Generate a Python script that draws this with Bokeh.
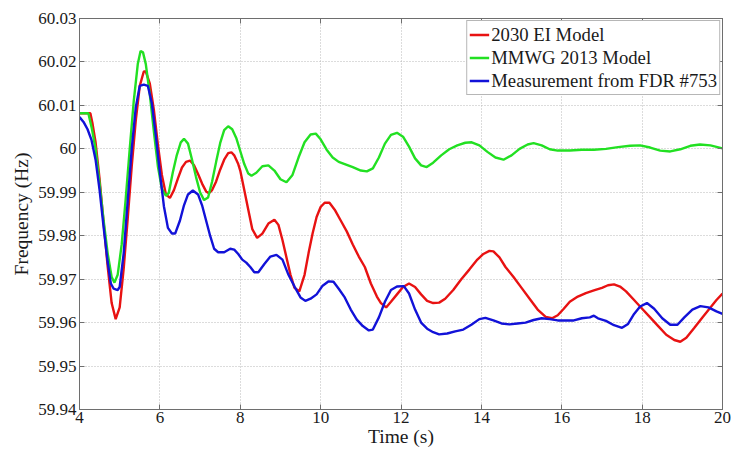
from bokeh.plotting import figure
from bokeh.models import LinearAxis, Legend, LegendItem, FixedTicker, Range1d, CustomJSTickFormatter
from bokeh.embed import file_html
from bokeh.resources import INLINE

# --- data -------------------------------------------------------------
ei2030_t = [4.0, 4.27, 4.32, 4.4, 4.5, 4.6, 4.7, 4.8, 4.9, 5.0, 5.1, 5.2, 5.3, 5.4,
            5.5, 5.6, 5.65, 5.75, 5.85, 5.95, 6.05, 6.15, 6.25, 6.35, 6.45, 6.55,
            6.65, 6.75, 6.85, 6.95, 7.05, 7.15, 7.22, 7.3, 7.4, 7.5, 7.6, 7.7, 7.78,
            7.85, 7.95, 8.0, 8.1, 8.2, 8.3, 8.42, 8.55, 8.7, 8.85, 8.95, 9.05, 9.15,
            9.25, 9.35, 9.47, 9.6, 9.7, 9.8, 9.9, 10.0, 10.1, 10.22, 10.35, 10.5,
            10.65, 10.8, 10.95, 11.1, 11.25, 11.4, 11.5, 11.63, 11.75, 11.9, 12.05,
            12.2, 12.35, 12.5, 12.65, 12.8, 12.95, 13.1, 13.3, 13.5, 13.7, 13.9,
            14.05, 14.2, 14.3, 14.45, 14.6, 14.8, 15.0, 15.2, 15.4, 15.6, 15.76,
            15.9, 16.05, 16.2, 16.4, 16.6, 16.8, 17.0, 17.15, 17.3, 17.45, 17.6,
            17.8, 18.0, 18.2, 18.4, 18.6, 18.8, 18.95, 19.1, 19.3, 19.5, 19.7,
            19.85, 20.0]
ei2030_f = [60.0082, 60.0082, 60.006, 60.0015, 59.993, 59.983, 59.973, 59.9645,
            59.9608, 59.9635, 59.9725, 59.984, 59.996, 60.0065, 60.0145, 60.0178,
            60.0178, 60.015, 60.009, 60.001, 59.994, 59.9895, 59.9887, 59.9905,
            59.9932, 59.9957, 59.997, 59.9973, 59.9962, 59.9942, 59.992, 59.9902,
            59.9898, 59.9905, 59.9925, 59.9952, 59.9975, 59.999, 59.9992, 59.9985,
            59.9965, 59.995, 59.9905, 59.986, 59.9815, 59.9795, 59.9805, 59.9828,
            59.9837, 59.9825, 59.979, 59.975, 59.971, 59.968, 59.9672, 59.971,
            59.976, 59.9805, 59.9843, 59.9866, 59.9876, 59.9876, 59.986, 59.9835,
            59.981, 59.978, 59.9752, 59.9728, 59.969, 59.966, 59.9645, 59.9635,
            59.9648, 59.9665, 59.9682, 59.969, 59.9682, 59.9665, 59.965, 59.9645,
            59.9646, 59.9655, 59.9675, 59.97, 59.9722, 59.9745, 59.9758, 59.9765,
            59.9764, 59.975, 59.9728, 59.9705, 59.968, 59.9655, 59.963, 59.9613,
            59.961, 59.9617, 59.9632, 59.9648, 59.966, 59.9668, 59.9674, 59.968,
            59.9686, 59.9688, 59.9683, 59.9672, 59.9652, 59.9632, 59.9612, 59.9592,
            59.9572, 59.956, 59.9556, 59.9565, 59.9588, 59.9612, 59.9635, 59.9652,
            59.9667]

mmwg_t = [4.0, 4.22, 4.3, 4.4, 4.5, 4.6, 4.7, 4.8, 4.87, 4.95, 5.05, 5.15, 5.25,
          5.35, 5.45, 5.52, 5.58, 5.65, 5.75, 5.85, 5.95, 6.05, 6.15, 6.22, 6.32,
          6.42, 6.52, 6.6, 6.7, 6.8, 6.9, 7.0, 7.1, 7.2, 7.3, 7.4, 7.5, 7.6, 7.7,
          7.8, 7.9, 8.0, 8.1, 8.2, 8.28, 8.4, 8.55, 8.7, 8.85, 9.0, 9.15, 9.3,
          9.45, 9.6, 9.75, 9.88, 10.0, 10.15, 10.3, 10.45, 10.6, 10.8, 11.0,
          11.15, 11.3, 11.45, 11.6, 11.75, 11.9, 12.05, 12.2, 12.35, 12.5, 12.64,
          12.8, 13.0, 13.2, 13.4, 13.6, 13.76, 13.95, 14.15, 14.35, 14.55, 14.75,
          14.95, 15.15, 15.3, 15.5, 15.7, 15.9, 16.2, 16.5, 16.8, 17.1, 17.4,
          17.7, 17.95, 18.2, 18.45, 18.7, 18.95, 19.2, 19.44, 19.7, 20.0]
mmwg_f = [60.0082, 60.0082, 60.005, 60.0, 59.992, 59.9835, 59.976, 59.9705,
          59.9692, 59.971, 59.978, 59.9885, 60.0, 60.011, 60.0195, 60.0225,
          60.0222, 60.0195, 60.0125, 60.004, 59.996, 59.9908, 59.9892, 59.9898,
          59.9945, 59.9985, 60.0015, 60.0023, 60.0012, 59.9975, 59.9935, 59.99,
          59.9882, 59.9888, 59.9925, 59.997, 60.0013, 60.0043, 60.0052, 60.0045,
          60.0025, 59.9995, 59.9965, 59.9943, 59.9938, 59.9945, 59.996, 59.9962,
          59.995, 59.993, 59.9923, 59.994, 59.998, 60.0015, 60.0033, 60.0035,
          60.0022, 59.9998, 59.998, 59.997, 59.9965, 59.9958, 59.995, 59.9948,
          59.9955, 59.998, 60.0012, 60.0032, 60.0037, 60.0028, 60.0005, 59.9978,
          59.9962, 59.9958, 59.9968, 59.9985, 59.9999, 60.0008, 60.0014, 60.0015,
          60.0008, 59.9993, 59.998, 59.9975, 59.9985, 60.0, 60.001, 60.0013,
          60.0008, 59.9999, 59.9996, 59.9996, 59.9998, 59.9998, 60.0, 60.0004,
          60.0007, 60.0008, 60.0003, 59.9996, 59.9994, 59.9999, 60.0007, 60.001,
          60.0008, 60.0001]

fdr_t = [4.0, 4.1, 4.2, 4.3, 4.4, 4.5, 4.6, 4.7, 4.78, 4.85, 4.95, 5.0, 5.1, 5.2,
         5.3, 5.4, 5.5, 5.6, 5.7, 5.8, 5.9, 6.0, 6.1, 6.2, 6.3, 6.38, 6.5, 6.6,
         6.7, 6.82, 6.95, 7.05, 7.15, 7.25, 7.35, 7.45, 7.6, 7.75, 7.85, 7.95,
         8.05, 8.15, 8.25, 8.35, 8.45, 8.6, 8.75, 8.9, 9.05, 9.2, 9.35, 9.5,
         9.62, 9.75, 9.9, 10.05, 10.2, 10.32, 10.45, 10.6, 10.75, 10.9, 11.05,
         11.2, 11.3, 11.45, 11.6, 11.75, 11.9, 12.07, 12.2, 12.35, 12.5, 12.65,
         12.8, 12.95, 13.15, 13.35, 13.55, 13.75, 13.95, 14.1, 14.3, 14.5, 14.7,
         14.9, 15.1, 15.3, 15.5, 15.7, 15.9, 16.1, 16.3, 16.5, 16.7, 16.8, 16.9,
         17.1, 17.3, 17.5, 17.65, 17.8, 17.95, 18.12, 18.3, 18.5, 18.7, 18.88,
         19.05, 19.25, 19.45, 19.65, 19.85, 20.0]
fdr_f = [60.0073, 60.0062, 60.0045, 60.002, 59.9975, 59.9905, 59.982, 59.974,
         59.969, 59.9678, 59.9675, 59.9682, 59.976, 59.988, 60.0, 60.0095,
         60.0145, 60.0148, 60.0145, 60.0105, 60.003, 59.9945, 59.9868, 59.9818,
         59.9805, 59.9805, 59.9835, 59.987, 59.9895, 59.9904, 59.9895, 59.987,
         59.9835, 59.98, 59.977, 59.9762, 59.9762, 59.977, 59.9768, 59.9758,
         59.9745, 59.9738, 59.9728, 59.9716, 59.9716, 59.9735, 59.9752, 59.9756,
         59.9745, 59.971, 59.9683, 59.9658, 59.965, 59.9655, 59.9665, 59.9685,
         59.9695, 59.9694, 59.9678, 59.9658, 59.963, 59.9607, 59.9592, 59.9582,
         59.9584, 59.9612, 59.9648, 59.9675, 59.9683, 59.9684, 59.9667, 59.963,
         59.96, 59.9586, 59.9578, 59.9573, 59.9575, 59.958, 59.9584, 59.9595,
         59.9608, 59.9611, 59.9605, 59.9598, 59.9596, 59.9598, 59.96, 59.9606,
         59.961, 59.9608, 59.9605, 59.9605, 59.9605, 59.961, 59.9612, 59.9616,
         59.961, 59.9604, 59.9594, 59.9588, 59.9597, 59.962, 59.9637, 59.9645,
         59.9632, 59.961, 59.9595, 59.9595, 59.9612, 59.963, 59.9638, 59.9635,
         59.9626, 59.962]

series_names = ["2030 EI Model", "MMWG 2013 Model", "Measurement from FDR #753"]
series_colors = ["#e81212", "#22e022", "#1212d8"]

x_ticks = [4, 6, 8, 10, 12, 14, 16, 18, 20]
y_ticks = [59.94, 59.95, 59.96, 59.97, 59.98, 59.99, 60.0, 60.01, 60.02, 60.03]
y_tick_labels = ["59.94", "59.95", "59.96", "59.97", "59.98", "59.99", "60",
                 "60.01", "60.02", "60.03"]

# --- figure -----------------------------------------------------------
FONT = "Liberation Serif"
AXIS_COLOR = "#6e6e6e"
TEXT_COLOR = "#1a1a1a"

p = figure(width=733, height=451, output_backend="svg", toolbar_location=None,
           x_range=Range1d(4, 20), y_range=Range1d(59.94, 60.03),
           min_border_left=79, min_border_right=11, min_border_top=18,
           min_border_bottom=42, background_fill_color="white",
           border_fill_color="white")
p.outline_line_color = AXIS_COLOR
p.outline_line_width = 1

renderers = []
for t, f, c in zip([ei2030_t, mmwg_t, fdr_t], [ei2030_f, mmwg_f, fdr_f], series_colors):
    renderers.append(p.line(t, f, line_color=c, line_width=2.4))

# primary axes
p.xaxis.ticker = FixedTicker(ticks=x_ticks)
p.yaxis.ticker = FixedTicker(ticks=y_ticks)
p.yaxis.major_label_overrides = {v: s for v, s in zip(y_ticks, y_tick_labels)}
p.xaxis.axis_label = "Time (s)"
p.yaxis.axis_label = "Frequency (Hz)"

for ax in (p.xaxis[0], p.yaxis[0]):
    ax.axis_line_color = AXIS_COLOR
    ax.major_tick_line_color = AXIS_COLOR
    ax.major_tick_in = 5
    ax.major_tick_out = 0
    ax.minor_tick_line_color = None
    ax.major_label_text_font = FONT
    ax.major_label_text_font_size = "17px"
    ax.major_label_text_color = TEXT_COLOR
    ax.axis_label_text_font = FONT
    ax.axis_label_text_font_size = "19.5px"
    ax.axis_label_text_font_style = "normal"
    ax.axis_label_text_color = TEXT_COLOR
p.xaxis.major_label_standoff = 2
p.yaxis.major_label_standoff = 3
p.xaxis.axis_label_standoff = 0
p.yaxis.axis_label_standoff = 3

# mirrored axes on top and right: tick marks only, labels left blank
blank = CustomJSTickFormatter(code="return '';")
top_ax = LinearAxis(ticker=FixedTicker(ticks=x_ticks), formatter=blank)
right_ax = LinearAxis(ticker=FixedTicker(ticks=y_ticks), formatter=blank)
for ax in (top_ax, right_ax):
    ax.axis_line_color = AXIS_COLOR
    ax.major_tick_line_color = AXIS_COLOR
    ax.major_tick_in = 5
    ax.major_tick_out = 0
    ax.minor_tick_line_color = None
    ax.major_label_standoff = 0
p.add_layout(top_ax, "above")
p.add_layout(right_ax, "right")

# dotted grid
p.xgrid.ticker = FixedTicker(ticks=x_ticks)
p.ygrid.ticker = FixedTicker(ticks=y_ticks)
for g in (p.xgrid[0], p.ygrid[0]):
    g.grid_line_color = "#b8b8b8"
    g.grid_line_dash = "1 2"
    g.grid_line_width = 1

legend = Legend(items=[LegendItem(label=n, renderers=[r]) for n, r in zip(series_names, renderers)],
                location="top_right")
legend.label_text_font = FONT
legend.label_text_font_size = "18.7px"
legend.label_text_color = TEXT_COLOR
legend.border_line_color = AXIS_COLOR
legend.border_line_width = 1
legend.background_fill_color = "white"
legend.background_fill_alpha = 1
legend.padding = 2
legend.spacing = 0
legend.margin = 2
legend.label_height = 23
legend.glyph_height = 23
legend.glyph_width = 20
legend.label_standoff = 2
p.add_layout(legend)

open("out.html", "w").write(file_html(p, INLINE))
